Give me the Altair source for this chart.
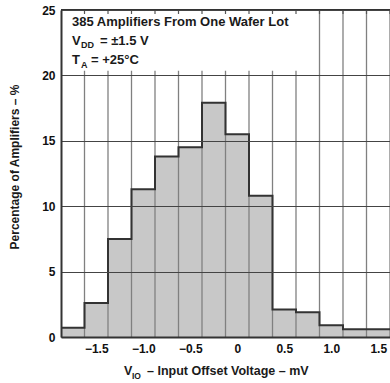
import altair as alt
import pandas as pd

# Histogram data (bin edges in mV, percentage of amplifiers)
bin_lo = [-1.875, -1.625, -1.375, -1.125, -0.875, -0.625, -0.375, -0.125,
          0.125, 0.375, 0.625, 0.875, 1.125, 1.375]
bin_hi = [-1.625, -1.375, -1.125, -0.875, -0.625, -0.375, -0.125, 0.125,
          0.375, 0.625, 0.875, 1.125, 1.375, 1.625]
pct = [0.7, 2.6, 7.5, 11.3, 13.8, 14.5, 17.9, 15.5, 10.8, 2.1, 1.9, 0.9, 0.6, 0.6]

x_ticks = [-1.5, -1.0, -0.5, 0, 0.5, 1.0, 1.5]
y_ticks = [0, 5, 10, 15, 20, 25]

FONT = "Liberation Sans"
DARK = "#333333"

bars_df = pd.DataFrame({"x": bin_lo, "x2": bin_hi, "y": pct, "y2": [0.0] * len(pct)})
step_df = pd.DataFrame({"x": bin_lo + [bin_hi[-1]], "y": pct + [pct[-1]]})
edges_df = pd.DataFrame({"x": bin_lo[1:] + [bin_hi[-1]]})

xs = alt.Scale(domain=[-1.875, 1.625], nice=False, zero=False)
ys = alt.Scale(domain=[0, 25], nice=False, zero=True)

XAX = alt.Axis(
    values=x_ticks, grid=False, ticks=False, title=None,
    labelExpr="datum.value == 0 ? '0' : replace(format(datum.value, '.1f'), '-', '\u2212')",
    labelFont=FONT, labelFontSize=12, labelFontWeight="bold", labelColor="#111",
    labelPadding=6, domainColor=DARK, domainWidth=2, zindex=1)
YAX = alt.Axis(
    values=y_ticks, grid=True, gridColor="#444", gridWidth=1, ticks=False, title=None,
    labelFont=FONT, labelFontSize=12, labelFontWeight="bold", labelColor="#111",
    labelPadding=6, domainColor=DARK, domainWidth=2, zindex=1)

X = lambda f="x": alt.X(f"{f}:Q", scale=xs, axis=XAX)
Y = lambda f="y": alt.Y(f"{f}:Q", scale=ys, axis=YAX)

bars = alt.Chart(bars_df).mark_rect(color="#c8c8c8").encode(
    x=X(), x2="x2:Q", y=Y(), y2="y2:Q")

vgrid = alt.Chart(edges_df).mark_rule(color="#808080", strokeWidth=1.3).encode(x=X())

step = alt.Chart(step_df).mark_line(interpolate="step-after", color=DARK, strokeWidth=2).encode(
    x=X(), y=Y())

box = alt.Chart(pd.DataFrame({"x": [-1.875], "x2": [0.8], "y": [20.35], "y2": [25]})).mark_rect(
    color="white").encode(x=X(), x2="x2:Q", y=Y(), y2="y2:Q")

top_ticks = alt.Chart(edges_df).mark_rule(color="#555", strokeWidth=1.2).encode(
    x=X(), y=alt.value(0), y2=alt.value(4))

top_border = alt.Chart(pd.DataFrame({"y": [25]})).mark_rule(color=DARK, strokeWidth=2).encode(
    y=Y())


def txt(s, x, y, size=13, angle=None, align="left"):
    kw = dict(text=s, font=FONT, fontSize=size, fontWeight="bold", color="#1a1a1a",
              align=align, baseline="alphabetic")
    if angle is not None:
        kw["angle"] = angle
        kw["baseline"] = "middle"
    return alt.Chart(pd.DataFrame({"a": [0]})).mark_text(**kw).encode(
        x=alt.value(x), y=alt.value(y))


texts = [
    txt("385 Amplifiers From One Wafer Lot", 11, 16),
    txt("V", 11, 34.5), txt("DD", 20, 38, size=9), txt("= \u00b11.5 V", 39, 34.5),
    txt("T", 11, 54.3), txt("A", 20, 58, size=9), txt("= +25\u00b0C", 30, 54.3),
    txt("V", 63, 365, size=12.5), txt("IO", 71, 368.5, size=8.5),
    txt("\u2013 Input Offset Voltage \u2013 mV", 86, 365, size=12.5),
    txt("Percentage of Amplifiers \u2013 %", -46, 157, size=12, angle=270, align="center"),
]

chart = alt.layer(bars, vgrid, step, box, top_ticks, top_border, *texts).properties(
    width=329, height=327,
    autosize=alt.AutoSizeParams(type="none"),
    padding={"left": 61, "top": 10, "right": 0, "bottom": 46},
).configure_view(stroke=None).configure(background="white")

chart.save("out.html", embed_options={"renderer": "svg", "actions": False})
